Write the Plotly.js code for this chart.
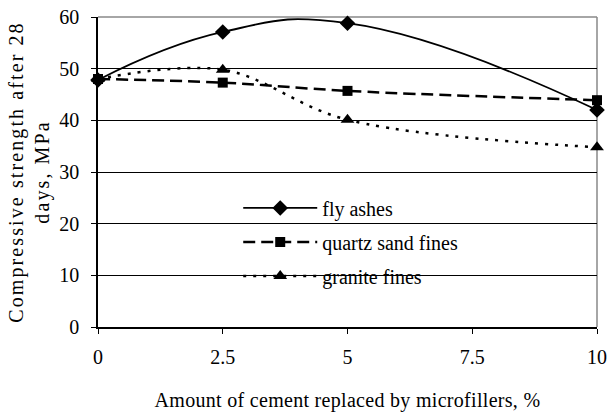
<!DOCTYPE html>
<html><head><meta charset="utf-8">
<script src="https://cdn.plot.ly/plotly-3.0.1.min.js"></script>
<style>body{margin:0;background:#fff}#c{width:610px;height:419px}#c .ytitle{letter-spacing:2.1px}#c .xtitle{letter-spacing:0.3px}</style>
</head><body><div id="c"></div>
<script>
const xValues = [0, 2.5, 5, 10];
const flyAshes = [47.8, 57.1, 58.8, 42.0];
const quartzSandFines = [48.0, 47.3, 45.7, 43.9];
const graniteFines = [48.0, 49.8, 40.1, 34.8];
const seriesNames = ["fly ashes", "quartz sand fines", "granite fines"];
const xTicks = [0, 2.5, 5, 7.5, 10];
const xTickText = ["0", "2.5", "5", "7.5", "10"];
const yTicks = [0, 10, 20, 30, 40, 50, 60];

const FF = "Liberation Serif";
const traces = [
  {x: xValues, y: flyAshes, name: seriesNames[0], legendgroup: "a", type: "scatter", mode: "lines+markers",
   line: {color: "#000", width: 1.8, shape: "spline", smoothing: 1.3}, marker: {symbol: "diamond", size: 12, color: "#000"}, cliponaxis: false},
  {x: xValues, y: quartzSandFines, name: seriesNames[1], legendgroup: "b", type: "scatter", mode: "lines+markers",
   line: {color: "#000", width: 2.5, dash: "12px,6px", shape: "spline", smoothing: 1}, marker: {symbol: "square", size: 10, color: "#000"}, cliponaxis: false},
  {x: xValues, y: graniteFines, name: seriesNames[2], legendgroup: "c", type: "scatter", mode: "lines+markers",
   line: {color: "#000", width: 2.5, dash: "3px,7px", shape: "spline", smoothing: 1}, marker: {symbol: "triangle-up", size: 12, color: "#000"}, cliponaxis: false}
];
const layout = {
  width: 610, height: 419,
  margin: {l: 98, r: 13, t: 17, b: 92},
  paper_bgcolor: "#fff", plot_bgcolor: "#fff",
  font: {family: FF, size: 20, color: "#000"},
  showlegend: true,
  legend: {x: 0.281, y: 0.447, xanchor: "left", yanchor: "top", bgcolor: "rgba(0,0,0,0)",
    font: {family: FF, size: 20, color: "#000"}, tracegroupgap: 5, itemwidth: 74},
  xaxis: {range: [0, 10], tickvals: xTicks, ticktext: xTickText, showgrid: false, zeroline: false,
    showline: true, linecolor: "#000", linewidth: 1.5, ticks: "outside", ticklen: 5, tickcolor: "#000",
    ticklabelstandoff: 6, tickfont: {family: FF, size: 20},
    title: {text: "Amount of cement replaced by microfillers, %", font: {family: FF, size: 20}, standoff: 26}},
  yaxis: {range: [0, 60], tickvals: yTicks, showgrid: true, gridcolor: "#000", gridwidth: 1, zeroline: false,
    showline: true, linecolor: "#000", linewidth: 1.5, ticks: "outside", ticklen: 5, tickcolor: "#000",
    ticklabelstandoff: 8, tickfont: {family: FF, size: 20},
    title: {text: "Compressive strength after 28<br>days, MPa", font: {family: FF, size: 20}, standoff: 4}},
  shapes: [
    {type: "rect", xref: "paper", yref: "paper", x0: 0.186, x1: 0.832, y0: 0.06, y1: 0.47, fillcolor: "#fff", line: {width: 0}, layer: "between"},
    {type: "line", xref: "paper", yref: "paper", x0: 0, x1: 1, y0: 1, y1: 1, line: {color: "#888", width: 1.5}, layer: "between"},
    {type: "line", xref: "paper", yref: "paper", x0: 1, x1: 1, y0: 0, y1: 1, line: {color: "#888", width: 1.5}, layer: "between"}
  ]
};
Plotly.newPlot("c", traces, layout, {displayModeBar: false});
</script></body></html>
